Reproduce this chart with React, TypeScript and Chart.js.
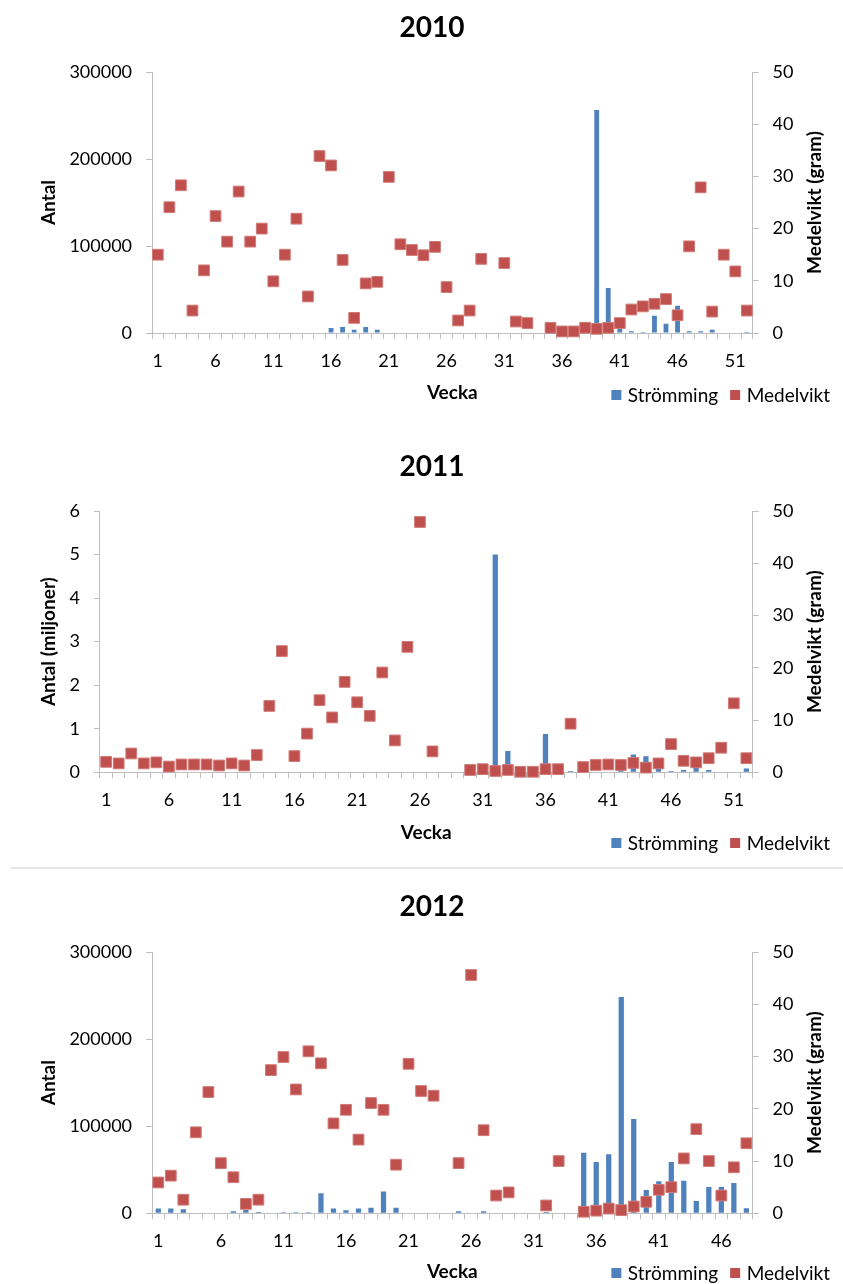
import React, { useEffect, useRef } from "react";
import { Chart, registerables } from "chart.js";

Chart.register(...registerables);
Chart.defaults.font.family = "Lato, 'Liberation Sans', sans-serif";

const weeks52 = [
  "1", "2", "3", "4", "5", "6", "7", "8", "9", "10", "11", "12", "13",
  "14", "15", "16", "17", "18", "19", "20", "21", "22", "23", "24", "25", "26",
  "27", "28", "29", "30", "31", "32", "33", "34", "35", "36", "37", "38", "39",
  "40", "41", "42", "43", "44", "45", "46", "47", "48", "49", "50", "51", "52",
];
const weeks48 = weeks52.slice(0, 48);

// 2010: Antal (st), Medelvikt (gram)
const strom2010 = [
  0, 0, 0, 500, 0, 0, 0, 0, 0, 0,
  0, 0, 0, 0, 0, 5700, 6900, 3800, 6900, 3800,
  0, 0, 700, 0, 0, 0, 0, 0, 0, 0,
  0, 0, 0, 0, 0, 0, 0, 0, 256400, 51700,
  5000, 2000, 1100, 19900, 10700, 31400, 2000, 2000, 3800, 0,
  0, 1100,
];
const medel2010 = [
  15.0, 24.1, 28.3, 4.3, 12.0, 22.4, 17.5, 27.1, 17.5, 20.0,
  9.9, 15.0, 21.9, 7.0, 33.9, 32.1, 14.0, 2.9, 9.5, 9.8,
  29.9, 17.0, 15.9, 14.9, 16.5, 8.8, 2.4, 4.3, 14.2, null,
  13.4, 2.2, 1.9, null, 1.0, 0.3, 0.3, 1.0, 0.8, 1.0,
  1.9, 4.5, 5.1, 5.6, 6.5, 3.4, 16.6, 27.9, 4.1, 15.0,
  11.8, 4.3,
];

// 2011: Antal (miljoner), Medelvikt (gram)
const strom2011 = [
  0, 0, 0, 0, 0, 0, 0, 0, 0, 0,
  0, 0, 0, 0, 0, 0, 0, 0, 0, 0,
  0, 0, 0, 0, 0, 0, 0, 0, 0, 0,
  0, 5.0, 0.49, 0, 0, 0.88, 0, 0.03, 0, 0,
  0, 0.05, 0.41, 0.37, 0.13, 0.03, 0.05, 0.13, 0.05, 0,
  0, 0.09,
];
const medel2011 = [
  2.0, 1.7, 3.6, 1.7, 1.9, 1.1, 1.5, 1.5, 1.5, 1.3,
  1.7, 1.3, 3.3, 12.7, 23.2, 3.1, 7.4, 13.8, 10.5, 17.3,
  13.4, 10.8, 19.1, 6.1, 24.0, 47.9, 4.0, null, null, 0.45,
  0.6, 0.25, 0.45, 0.1, 0.1, 0.6, 0.6, 9.3, 1.0, 1.4,
  1.5, 1.4, 1.8, 0.9, 1.7, 5.4, 2.2, 1.9, 2.7, 4.7,
  13.2, 2.7,
];

// 2012: Antal (st), Medelvikt (gram)
const strom2012 = [
  5400, 5400, 4600, 0, 0, 0, 2300, 3800, 1500, 0,
  1100, 1100, 1100, 23000, 5400, 3400, 5400, 6500, 24900, 6500,
  0, 0, 0, 0, 2300, 0, 2300, 0, 0, 0,
  0, 1500, 0, 0, 69600, 58900, 67700, 248300, 108300, 26800,
  36700, 58900, 37500, 14200, 30200, 30200, 34800, 5700,
];
const medel2012 = [
  5.9, 7.2, 2.6, 15.5, 23.2, 9.6, 6.9, 1.8, 2.6, 27.4,
  29.9, 23.7, 31.0, 28.7, 17.2, 19.8, 14.1, 21.1, 19.8, 9.3,
  28.6, 23.4, 22.5, null, 9.6, 45.6, 15.9, 3.4, 4.0, null,
  null, 1.5, 10.0, null, 0.3, 0.5, 0.9, 0.6, 1.3, 2.2,
  4.5, 5.0, 10.5, 16.1, 10.0, 3.4, 8.8, 13.4,
];

const AXIS = "#bfbfbf";
const BLUE = "#4f81bd";
const RED = "#c0504d";

const decorPlugin = {
  id: "decor",
  afterDraw(chart: any, _args: any, opts: any) {
    const ctx = chart.ctx;
    const y1 = chart.scales.y1;
    ctx.save();
    ctx.font = "bold 19px Lato";
    ctx.fillStyle = "#000";
    ctx.textAlign = "center";
    ctx.textBaseline = "middle";
    ctx.translate(y1.right - 11.4, (y1.top + y1.bottom) / 2);
    ctx.rotate(-Math.PI / 2);
    ctx.fillText(opts.rightTitle, 0, 0);
    ctx.restore();

    // legend
    ctx.save();
    ctx.font = "19px Lato";
    ctx.textBaseline = "middle";
    ctx.textAlign = "left";
    const items = chart.data.datasets.map((d: any) => ({
      label: d.label,
      color: d.legendColor,
      w: ctx.measureText(d.label).width,
    }));
    const sq = 10;
    const gapText = 6.5;
    const gapItem = 12;
    let total = 0;
    items.forEach((it: any, i: number) => {
      total += sq + gapText + it.w + (i > 0 ? gapItem : 0);
    });
    let x = opts.legendRight - total;
    const cy = opts.legendY;
    items.forEach((it: any) => {
      ctx.fillStyle = it.color;
      ctx.fillRect(x, cy - sq / 2, sq, sq);
      ctx.fillStyle = "#000";
      ctx.fillText(it.label, x + sq + gapText, cy + 1);
      x += sq + gapText + it.w + gapItem;
    });
    ctx.restore();
  },
};

type Props = {
  top: number;
  height: number;
  title: string;
  labels: string[];
  strom: number[];
  medel: (number | null)[];
  leftMax: number;
  leftStep: number;
  leftTitle: string;
  titleCenter: number;
  plotTop: number;
  plotBottom: number;
  veckaCenter: number;
  legendY: number;
};

function YearChart(p: Props) {
  const ref = useRef<HTMLCanvasElement | null>(null);
  useEffect(() => {
    if (!ref.current) return;
    const titleLH = 28 * 1.2;
    const tpTop = p.titleCenter - titleLH / 2;
    const tpBottom = p.plotTop - p.titleCenter - titleLH / 2;
    const xpt = p.veckaCenter - p.plotBottom - 61.4;
    const xpb = p.height - p.plotBottom - 72.8 - xpt;
    const labels = p.labels;
    const chart = new Chart(ref.current, {
      type: "bar",
      data: {
        labels,
        datasets: [
          {
            type: "bar",
            label: "Strömming",
            data: p.strom,
            backgroundColor: BLUE,
            legendColor: BLUE,
            yAxisID: "y",
            barPercentage: 0.42,
            categoryPercentage: 1,
            order: 1,
          } as any,
          {
            type: "line",
            label: "Medelvikt",
            data: p.medel,
            yAxisID: "y1",
            showLine: false,
            pointStyle: "rect",
            pointRadius: 7.6,
            pointBackgroundColor: RED,
            pointBorderColor: "#d07a78",
            pointBorderWidth: 1,
            backgroundColor: RED,
            borderColor: RED,
            legendColor: RED,
            clip: false,
            order: 0,
          } as any,
        ],
      },
      options: {
        animation: false,
        responsive: false,
        devicePixelRatio: 1,
        events: [],
        layout: { padding: { left: 37.6, right: 16.6, top: 0, bottom: 0 } },
        plugins: {
          legend: { display: false },
          tooltip: { enabled: false },
          title: {
            display: true,
            text: p.title,
            color: "#000",
            font: { size: 28, weight: "bold", lineHeight: 1.2 },
            padding: { top: tpTop, bottom: tpBottom },
          },
          decor: {
            rightTitle: "Medelvikt (gram)",
            legendRight: 830,
            legendY: p.legendY,
          },
        } as any,
        scales: {
          x: {
            type: "category",
            offset: true,
            grid: {
              offset: true,
              drawOnChartArea: false,
              drawTicks: true,
              tickLength: 6,
              color: AXIS,
            },
            border: { display: true, color: AXIS },
            ticks: {
              autoSkip: false,
              maxRotation: 0,
              minRotation: 0,
              padding: 11.2,
              color: "#000",
              font: { size: 18 },
              callback: (_v: any, i: number) => (i % 5 === 0 ? labels[i] : ""),
            },
            title: {
              display: true,
              text: "Vecka",
              color: "#000",
              font: { size: 19, weight: "bold", lineHeight: 1.2 },
              padding: { top: xpt, bottom: xpb },
            },
          },
          y: {
            type: "linear",
            position: "left",
            min: 0,
            max: p.leftMax,
            grid: { drawOnChartArea: false, drawTicks: true, tickLength: 6, color: AXIS },
            border: { display: true, color: AXIS },
            ticks: {
              stepSize: p.leftStep,
              padding: 14,
              color: "#000",
              font: { size: 18 },
              callback: (v: any) => String(v),
            },
            title: {
              display: true,
              text: p.leftTitle,
              color: "#000",
              font: { size: 19, weight: "bold", lineHeight: 1.2 },
              padding: { top: 0, bottom: -5 },
            },
          },
          y1: {
            type: "linear",
            position: "right",
            min: 0,
            max: 50,
            grid: { drawOnChartArea: false, drawTicks: true, tickLength: 6, color: AXIS },
            border: { display: true, color: AXIS },
            ticks: {
              stepSize: 10,
              padding: 14,
              color: "#000",
              font: { size: 18 },
              callback: (v: any) => String(v),
            },
            title: {
              display: true,
              text: "Medelvikt (gram)",
              color: "rgba(0,0,0,0)",
              font: { size: 19, weight: "bold", lineHeight: 1.2 },
              padding: { top: 0, bottom: -3.9 },
            },
          },
        },
      } as any,
      plugins: [decorPlugin as any],
    });
    return () => chart.destroy();
  }, []);
  return (
    <canvas
      ref={ref}
      width={843}
      height={p.height}
      style={{ position: "absolute", left: 0, top: p.top, width: 843, height: p.height, display: "block" }}
    />
  );
}

export default function App() {
  return (
    <div style={{ position: "absolute", left: 0, top: 0, width: 843, height: 1284, background: "#fff", overflow: "hidden" }}>
      <YearChart
        top={0}
        height={430}
        title="2010"
        labels={weeks52}
        strom={strom2010}
        medel={medel2010}
        leftMax={300000}
        leftStep={100000}
        leftTitle="Antal"
        titleCenter={28}
        plotTop={72}
        plotBottom={333}
        veckaCenter={393}
        legendY={395}
      />
      <YearChart
        top={430}
        height={430}
        title="2011"
        labels={weeks52}
        strom={strom2011}
        medel={medel2011}
        leftMax={6}
        leftStep={1}
        leftTitle="Antal (miljoner)"
        titleCenter={37}
        plotTop={81}
        plotBottom={342.3}
        veckaCenter={403.3}
        legendY={413}
      />
      <YearChart
        top={855}
        height={429}
        title="2012"
        labels={weeks48}
        strom={strom2012}
        medel={medel2012}
        leftMax={300000}
        leftStep={100000}
        leftTitle="Antal"
        titleCenter={51.7}
        plotTop={97}
        plotBottom={358.3}
        veckaCenter={417.3}
        legendY={418}
      />
      <div style={{ position: "absolute", left: 11, top: 867, width: 832, height: 2, background: "#e6e6e6" }} />
    </div>
  );
}
